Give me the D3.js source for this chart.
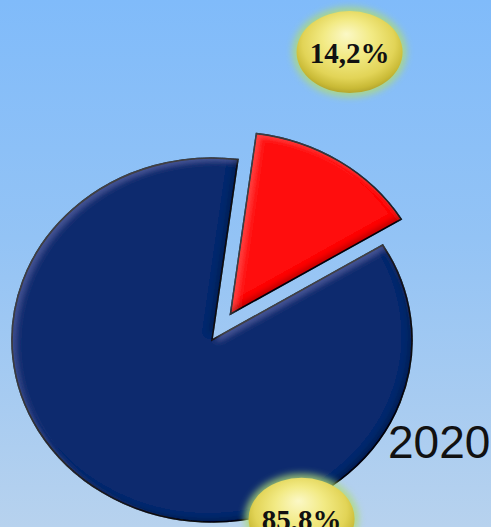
<!DOCTYPE html>
<html>
<head>
<meta charset="utf-8">
<script src="https://cdn.jsdelivr.net/npm/d3@7"></script>
<style>
html,body{margin:0;padding:0;overflow:hidden;}
svg{display:block;}
</style>
</head>
<body>
<svg id="chart" width="491" height="527"></svg>
<script>
// ---- data ----
const categories = ["Segment A", "Segment B"];
const values = [14.2, 85.8];
const labels = ["14,2%", "85,8%"];
const colors = ["#ff1010", "#0c2b6e"];
const title = "2020";

// ---- layout ----
const W = 491, H = 527;
const cx = 212, cy = 340, R = 200, squash = 0.91;
const explode = [34, 0];
// label anchors: angle (deg from 12 o'clock) and distance in pie units
const labelAnchor = [{a: 23.5, r: 345}, {a: 155.5, r: 216}];

const svg = d3.select("#chart");
const defs = svg.append("defs");

// background gradient
const bg = defs.append("linearGradient").attr("id", "bg").attr("x1", 0).attr("y1", 0).attr("x2", 0).attr("y2", 1);
bg.append("stop").attr("offset", "0%").attr("stop-color", "#80bbfa");
bg.append("stop").attr("offset", "45%").attr("stop-color", "#93c3f5");
bg.append("stop").attr("offset", "100%").attr("stop-color", "#b7d2ee");
svg.append("rect").attr("width", W).attr("height", H).attr("fill", "url(#bg)");

// bevel filter
const f = defs.append("filter").attr("id", "bevel").attr("x", "-10%").attr("y", "-10%").attr("width", "120%").attr("height", "120%");
f.append("feGaussianBlur").attr("in", "SourceAlpha").attr("stdDeviation", 3).attr("result", "b");
f.append("feOffset").attr("in", "b").attr("dx", 4).attr("dy", 4).attr("result", "o1");
f.append("feComposite").attr("in", "SourceAlpha").attr("in2", "o1").attr("operator", "out").attr("result", "hiMask");
const ct = f.append("feComponentTransfer").attr("in", "SourceGraphic").attr("result", "bright");
["feFuncR", "feFuncG", "feFuncB"].forEach(fn => ct.append(fn).attr("type", "linear").attr("slope", 1.8).attr("intercept", 0.07));
f.append("feComposite").attr("in", "bright").attr("in2", "hiMask").attr("operator", "in").attr("result", "hi0");
f.append("feComponentTransfer").attr("in", "hi0").attr("result", "hi")
  .append("feFuncA").attr("type", "linear").attr("slope", 0.75);
f.append("feOffset").attr("in", "b").attr("dx", -4).attr("dy", -4).attr("result", "o2");
f.append("feComposite").attr("in", "SourceAlpha").attr("in2", "o2").attr("operator", "out").attr("result", "shMask");
f.append("feFlood").attr("flood-color", "#000000").attr("flood-opacity", 0.45).attr("result", "shC");
f.append("feComposite").attr("in", "shC").attr("in2", "shMask").attr("operator", "in").attr("result", "sh");
const m = f.append("feMerge");
m.append("feMergeNode").attr("in", "SourceGraphic");
m.append("feMergeNode").attr("in", "hi");
m.append("feMergeNode").attr("in", "sh");

// bubble gradient & glow
const rg = defs.append("radialGradient").attr("id", "gold").attr("cx", "50%").attr("cy", "42%").attr("r", "58%").attr("fx", "47%").attr("fy", "28%");
rg.append("stop").attr("offset", "0%").attr("stop-color", "#fbf8c6");
rg.append("stop").attr("offset", "40%").attr("stop-color", "#f2ea84");
rg.append("stop").attr("offset", "75%").attr("stop-color", "#e2d457");
rg.append("stop").attr("offset", "92%").attr("stop-color", "#c9ba36");
rg.append("stop").attr("offset", "100%").attr("stop-color", "#b3a52e");
const glow = defs.append("filter").attr("id", "glow").attr("x", "-30%").attr("y", "-30%").attr("width", "160%").attr("height", "160%");
glow.append("feGaussianBlur").attr("stdDeviation", 3.5);

// pie
const total = d3.sum(values);
const redSpan = values[0] / total * 2 * Math.PI;
const mid = 33 * Math.PI / 180;
const start = mid - redSpan / 2;
const pie = d3.pie().sort(null).startAngle(start).endAngle(start + 2 * Math.PI);
const arcs = pie(values);
const arc = d3.arc().innerRadius(0).outerRadius(R);

const g = svg.append("g").attr("transform", `translate(${cx},${cy}) scale(1,${squash})`);
g.selectAll("path.slice").data(arcs).join("path")
  .attr("class", "slice")
  .attr("d", arc)
  .attr("transform", (d, i) => {
    const a = (d.startAngle + d.endAngle) / 2;
    return `translate(${Math.sin(a) * explode[i]},${-Math.cos(a) * explode[i]})`;
  })
  .attr("fill", (d, i) => colors[i])
  .attr("stroke", "#0a0a14")
  .attr("stroke-width", 1.6)
  .attr("vector-effect", "non-scaling-stroke")
  .attr("filter", "url(#bevel)");

// labels
const lab = svg.append("g");
labels.forEach((t, i) => {
  const a = labelAnchor[i].a * Math.PI / 180;
  const x = cx + Math.sin(a) * labelAnchor[i].r;
  const y = cy - Math.cos(a) * labelAnchor[i].r * squash;
  const gg = lab.append("g").attr("transform", `translate(${x},${y})`);
  gg.append("ellipse").attr("rx", 57).attr("ry", 45).attr("fill", "#b0dc74").attr("opacity", 0.8).attr("filter", "url(#glow)");
  gg.append("ellipse").attr("rx", 53).attr("ry", 41).attr("fill", "url(#gold)");
  gg.append("text").attr("text-anchor", "middle").attr("y", 11)
    .attr("font-family", "'Liberation Serif','Times New Roman',serif")
    .attr("font-weight", "bold").attr("font-size", 29).attr("fill", "#111")
    .text(t);
});

// year
svg.append("text").attr("x", 388).attr("y", 458)
  .attr("font-family", "'Liberation Sans',Arial,sans-serif")
  .attr("font-size", 46).attr("fill", "#111").text(title);
</script>
</body>
</html>
